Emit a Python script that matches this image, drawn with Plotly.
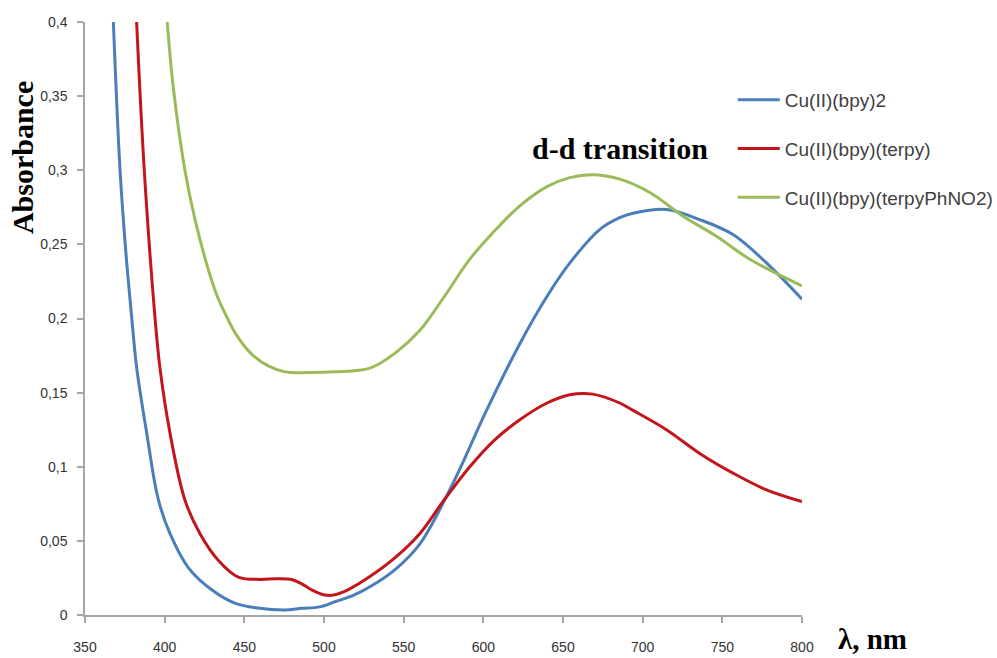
import plotly.graph_objects as go

# --- data ---
blue_wl = [367.8, 372, 375.7, 379.3, 382.4, 388.7, 396, 403.3, 414.8, 429.5, 444, 458.5, 475.5, 486, 497.4, 507,
           518, 528.8, 545, 560.2, 581, 602, 622.9, 640, 654.3, 673, 685.6, 694, 714.9, 735.8, 756.7, 777.7, 800]
blue_abs = [0.400, 0.300, 0.244, 0.201, 0.167, 0.123, 0.078, 0.055, 0.032, 0.017, 0.008, 0.0047, 0.0034, 0.0045,
            0.0055, 0.009, 0.013, 0.019, 0.031, 0.048, 0.089, 0.138, 0.183, 0.215, 0.2375, 0.260, 0.268, 0.271,
            0.2735, 0.2667, 0.2566, 0.2375, 0.213]

red_wl = [382.4, 387.2, 393.9, 397, 403.3, 412.7, 422.1, 433.6, 446.2, 460, 470, 479.7, 486, 492.2, 500.6, 506,
          515, 528.8, 545, 560.2, 575, 591.5, 607, 622.9, 640, 654.3, 668.7, 685.6, 694, 714.9, 735.8, 756.7,
          777.7, 800]
red_abs = [0.400, 0.300, 0.201, 0.167, 0.123, 0.0776, 0.055, 0.037, 0.0256, 0.024, 0.0245, 0.024, 0.021, 0.017,
           0.0135, 0.0135, 0.017, 0.0259, 0.039, 0.055, 0.077, 0.100, 0.118, 0.1317, 0.143, 0.1486, 0.149, 0.143,
           0.138, 0.125, 0.109, 0.0957, 0.0844, 0.0765]

green_wl = [401.6, 405.4, 412.7, 419, 427.4, 433, 439, 445, 454.6, 465, 475.5, 490, 506.8, 528.8, 545, 560.2,
            575, 591.5, 607, 622.9, 640, 654.3, 668.7, 685.6, 704.5, 725.4, 746.3, 767.2, 800]
green_abs = [0.400, 0.356, 0.300, 0.267, 0.233, 0.215, 0.201, 0.189, 0.176, 0.168, 0.164, 0.1635, 0.164, 0.1665,
             0.177, 0.192, 0.214, 0.240, 0.259, 0.276, 0.289, 0.295, 0.297, 0.294, 0.285, 0.269, 0.2555, 0.240,
             0.222]

names = ["Cu(II)(bpy)2", "Cu(II)(bpy)(terpy)", "Cu(II)(bpy)(terpyPhNO2)"]
colors = ["#4a7ebb", "#c0161c", "#9bbb59"]

x_ticks = [350, 400, 450, 500, 550, 600, 650, 700, 750, 800]
y_ticks = [0, 0.05, 0.1, 0.15, 0.2, 0.25, 0.3, 0.35, 0.4]

fig = go.Figure()
for i, (xs, ys) in enumerate([(blue_wl, blue_abs), (red_wl, red_abs), (green_wl, green_abs)]):
    fig.add_trace(go.Scatter(
        x=xs, y=ys, mode="lines", name=names[i], legendgroup=f"g{i}",
        line=dict(color=colors[i], width=3, shape="spline", smoothing=1.0),
    ))

axis_color = "#a6a6a6"
tick_font = dict(family="Liberation Sans, Arial, sans-serif", size=14, color="#333333")
serif = "Liberation Serif, Times New Roman, serif"

fig.update_layout(
    width=997, height=658,
    margin=dict(l=85, r=195, t=22, b=43, autoexpand=False),
    plot_bgcolor="white", paper_bgcolor="white",
    separators=", ",
    showlegend=True,
    legend=dict(
        xref="container", yref="container",
        x=0.735, y=0.877, xanchor="left", yanchor="top",
        font=dict(family="Liberation Sans, Arial, sans-serif", size=19, color="#404040"),
        bgcolor="rgba(0,0,0,0)", tracegroupgap=21, itemwidth=42,
        traceorder="grouped",
    ),
    xaxis=dict(
        range=[350, 800], tickvals=x_ticks, showgrid=False, zeroline=False, automargin=False,
        showline=True, linecolor=axis_color, linewidth=1.5,
        ticks="outside", ticklen=6, tickcolor=axis_color, tickwidth=1.5,
        tickfont=tick_font, ticklabelstandoff=12,
    ),
    yaxis=dict(
        range=[0, 0.4], tickvals=y_ticks, showgrid=False, zeroline=False, automargin=False,
        showline=True, linecolor=axis_color, linewidth=1.5,
        ticks="outside", ticklen=6, tickcolor=axis_color, tickwidth=1.5,
        tickfont=tick_font, ticklabelstandoff=7,
    ),
    annotations=[
        dict(text="<b>Absorbance</b>", xref="paper", yref="paper", x=-0.088, y=0.772,
             textangle=-90, showarrow=False, xanchor="center", yanchor="middle",
             font=dict(family=serif, size=30, color="black")),
        dict(text="<b>λ, nm</b>", xref="paper", yref="paper", x=1.047, y=-0.0705,
             showarrow=False, xanchor="left", yanchor="bottom",
             font=dict(family=serif, size=29, color="black")),
        dict(text="<b>d-d transition</b>", xref="x", yref="y", x=686, y=0.315,
             showarrow=False, xanchor="center", yanchor="middle",
             font=dict(family=serif, size=30, color="black")),
    ],
)

fig.write_html("out.html", config={"displayModeBar": False},
               post_script="document.body.style.margin='0';")
